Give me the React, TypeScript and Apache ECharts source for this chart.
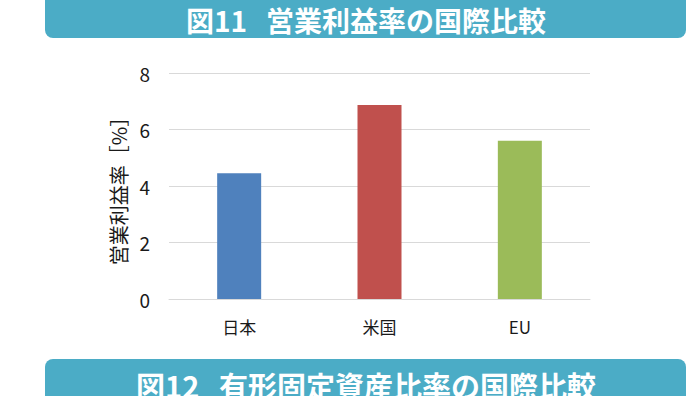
import React, { useEffect, useRef } from "react";
import * as echarts from "echarts";

const categories = ["日本", "米国", "EU"];
const values = [4.45, 6.87, 5.6];
const barColors = ["#4F81BD", "#C0504D", "#9BBB59"];
const yTicks = [0, 2, 4, 6, 8];
const titleTop = "図11   営業利益率の国際比較";
const titleBottom = "図12   有形固定資産比率の国際比較";
const yName = "営業利益率［%］";

const FONT = "'Noto Sans CJK JP', 'Noto Sans', sans-serif";

export default function App() {
  const ref = useRef<HTMLDivElement>(null);
  useEffect(() => {
    if (!ref.current) return;
    const chart = echarts.init(ref.current, null, { renderer: "svg" });
    chart.setOption({
      animation: false,
      backgroundColor: "#ffffff",
      grid: { left: 169, right: 101, top: 73, bottom: 97 },
      xAxis: {
        type: "category",
        data: categories,
        axisLine: { show: true, lineStyle: { color: "#D9D9D9", width: 1 } },
        axisTick: { show: false },
        axisLabel: { color: "#1a1a1a", fontSize: 17, fontFamily: FONT, margin: 19 },
      },
      yAxis: {
        type: "value",
        min: yTicks[0],
        max: yTicks[yTicks.length - 1],
        interval: 2,
        name: yName,
        nameLocation: "middle",
        nameGap: 41,
        nameRotate: 90,
        nameTextStyle: { color: "#1a1a1a", fontSize: 20, fontFamily: FONT },
        axisLine: { show: false },
        axisTick: { show: false },
        axisLabel: { color: "#1a1a1a", fontSize: 19, fontFamily: FONT, margin: 19 },
        splitLine: { lineStyle: { color: "#D9D9D9", width: 1 } },
      },
      series: [
        {
          type: "bar",
          barWidth: 44,
          data: values.map((v, i) => ({ value: v, itemStyle: { color: barColors[i] } })),
        },
      ],
      graphic: [
        {
          type: "rect",
          shape: { x: 45, y: -12, width: 641, height: 50, r: 8 },
          style: { fill: "#4BACC6" },
        },
        {
          type: "text",
          x: 366,
          y: 20,
          style: {
            text: titleTop,
            fill: "#ffffff",
            font: `bold 28px ${FONT}`,
            textAlign: "center",
            textVerticalAlign: "middle",
          },
        },
        {
          type: "rect",
          shape: { x: 45, y: 359, width: 641, height: 50, r: 8 },
          style: { fill: "#4BACC6" },
        },
        {
          type: "text",
          x: 366,
          y: 385,
          style: {
            text: titleBottom,
            fill: "#ffffff",
            font: `bold 29px ${FONT}`,
            textAlign: "center",
            textVerticalAlign: "middle",
          },
        },
      ],
    });
    return () => chart.dispose();
  }, []);
  return <div ref={ref} style={{ width: 691, height: 396, position: "absolute", left: 0, top: 0 }} />;
}
